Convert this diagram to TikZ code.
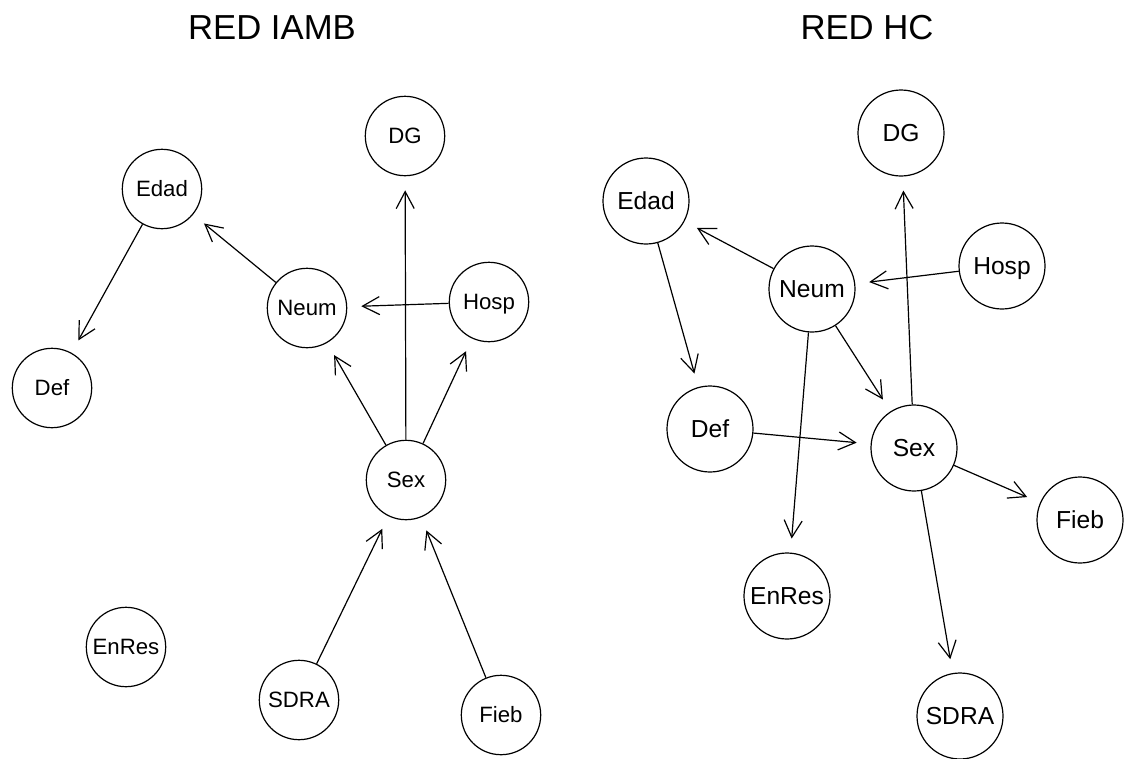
\documentclass[tikz,border=0pt]{standalone}
\usepackage{fontspec}
\setmainfont{Liberation Sans}
\usetikzlibrary{arrows.meta}
\begin{document}
\begin{tikzpicture}[x=1pt,y=-1pt,
  nl/.style={circle,draw,line width=1.2pt,minimum size=79.4pt,inner sep=0pt,
    font=\fontsize{22.2}{26}\selectfont,text height=15.9pt,text depth=0pt},
  nr/.style={nl,minimum size=86pt,font=\fontsize{24.6}{29}\selectfont,text height=17.6pt},
  edge/.style={-{Straight Barb[length=17pt,width=18pt,line width=1.2pt]},line width=1.2pt,shorten >=14pt},
  ttl/.style={font=\fontsize{34.7}{40}\selectfont,anchor=base}]
\path[use as bounding box] (0,0) rectangle (1124,758);
% titles
\node[ttl] (t1) at (272,39) {RED IAMB};
\node[ttl] (t2) at (867,39) {RED HC};
% left graph
\node[nl] (lDG) at (405,136) {DG};
\node[nl] (lEdad) at (162,189) {Edad};
\node[nl] (lNeum) at (307,308) {Neum};
\node[nl] (lHosp) at (489,302) {Hosp};
\node[nl] (lDef) at (52,388) {Def};
\node[nl] (lSex) at (406,480) {Sex};
\node[nl] (lEnRes) at (126,647) {EnRes};
\node[nl] (lSDRA) at (299,700) {SDRA};
\node[nl] (lFieb) at (501,715) {Fieb};
\draw[edge] (lNeum) -- (lEdad);
\draw[edge] (lEdad) -- (lDef);
\draw[edge] (lHosp) -- (lNeum);
\draw[edge] (lSex) -- (lNeum);
\draw[edge] (lSex) -- (lDG);
\draw[edge] (lSex) -- (lHosp);
\draw[edge] (lSDRA) -- (lSex);
\draw[edge] (lFieb) -- (lSex);
% right graph
\node[nr] (rDG) at (901,133) {DG};
\node[nr] (rEdad) at (646,201) {Edad};
\node[nr] (rNeum) at (812,289) {Neum};
\node[nr] (rHosp) at (1002,266) {Hosp};
\node[nr] (rDef) at (710,429) {Def};
\node[nr] (rSex) at (914,448) {Sex};
\node[nr] (rFieb) at (1080,520) {Fieb};
\node[nr] (rEnRes) at (787,596) {EnRes};
\node[nr] (rSDRA) at (960,716) {SDRA};
\draw[edge] (rNeum) -- (rEdad);
\draw[edge] (rEdad) -- (rDef);
\draw[edge] (rHosp) -- (rNeum);
\draw[edge] (rNeum) -- (rEnRes);
\draw[edge] (rNeum) -- (rSex);
\draw[edge] (rSex) -- (rDG);
\draw[edge] (rDef) -- (rSex);
\draw[edge] (rSex) -- (rFieb);
\draw[edge] (rSex) -- (rSDRA);
\end{tikzpicture}
\end{document}
